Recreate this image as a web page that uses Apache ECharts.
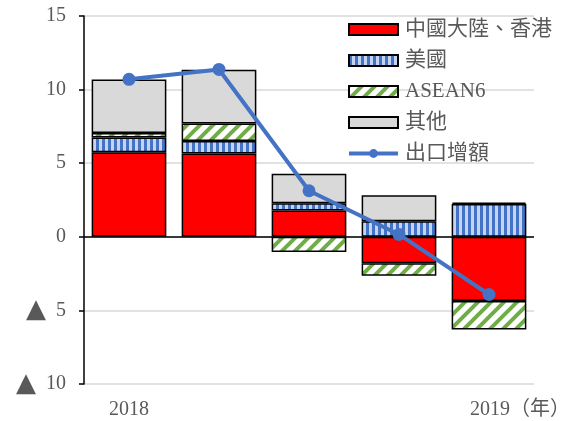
<!DOCTYPE html>
<html>
<head>
<meta charset="utf-8">
<script src="https://cdn.jsdelivr.net/npm/echarts@6/dist/echarts.min.js"></script>
<style>
  html, body { margin: 0; padding: 0; background: #fff; }
  #chart { width: 575px; height: 421px; }
</style>
</head>
<body>
<div id="chart"></div>
<script>
var categories = ['2018', ' ', '  ', '   ', '2019']
var yearUnit = '（年）'
var seriesNames = ['中國大陸、香港', '美國', 'ASEAN6', '其他', '出口增額']
var chinaHK = [5.75, 5.66, 1.78, -1.8, -4.36]
var usa = [1.0, 0.84, 0.5, 1.05, 2.23]
var asean6 = [0.3, 1.2, -1.03, -0.85, -1.94]
var others = [3.63, 3.65, 2.0, 1.78, 0.1]
var exportGrowth = [10.7, 11.37, 3.13, 0.16, -3.92]

var FONT = "'Liberation Serif', 'Noto Sans CJK TC', serif"
var TEXT = '#595959'

// vertical blue stripes
function stripes() {
  var c = document.createElement('canvas')
  c.width = 6; c.height = 6
  var ctx = c.getContext('2d')
  ctx.fillStyle = '#C5D4EE'
  ctx.fillRect(0, 0, 6, 6)
  ctx.fillStyle = '#4472C4'
  ctx.fillRect(0, 0, 3, 6)
  return c
}

// green diagonal hatch
function hatch() {
  var c = document.createElement('canvas')
  var s = 13
  c.width = s; c.height = s
  var ctx = c.getContext('2d')
  ctx.fillStyle = '#fff'
  ctx.fillRect(0, 0, s, s)
  ctx.strokeStyle = '#70AD47'
  ctx.lineWidth = 4
  ctx.beginPath()
  ctx.moveTo(-s, 2 * s); ctx.lineTo(2 * s, -s)
  ctx.moveTo(-s, s); ctx.lineTo(s, -s)
  ctx.moveTo(0, 2 * s); ctx.lineTo(2 * s, 0)
  ctx.stroke()
  return c
}

var barBorder = { borderColor: '#000', borderWidth: 1.5 }

function bar(name, data, color) {
  return {
    name: name, type: 'bar', stack: 'a', data: data,
    barCategoryGap: '17%',
    itemStyle: Object.assign({ color: color }, barBorder)
  }
}

var legendData = seriesNames.slice(0, 4).map(function (n) { return { name: n, icon: 'rect' } })
legendData.push({ name: seriesNames[4] })

var chart = echarts.init(document.getElementById('chart'))
chart.setOption({
  animation: false,
  textStyle: { fontFamily: FONT },
  grid: { left: 84, right: 41, top: 16, bottom: 37 },
  legend: {
    orient: 'vertical',
    left: 347, top: 19, padding: 0,
    itemWidth: 49, itemHeight: 11, itemGap: 10,
    lineStyle: { width: 4 },
    textStyle: { fontSize: 21, color: TEXT, fontFamily: FONT, padding: [0, 0, 0, 2] },
    data: legendData
  },
  xAxis: {
    type: 'category',
    data: categories,
    axisLine: { show: false, onZero: false },
    axisTick: { show: false },
    axisLabel: {
      interval: 0, fontSize: 20, color: TEXT, margin: 16, fontFamily: FONT,
      formatter: function (v, i) {
        return i === categories.length - 1 ? '{s|}' + v + '{u|' + yearUnit + '}' : v
      },
      rich: {
        s: { width: 62 },
        u: { fontSize: 20, color: TEXT, fontFamily: FONT }
      }
    }
  },
  yAxis: {
    type: 'value',
    min: -10, max: 15, interval: 5,
    axisLine: { show: true, lineStyle: { color: '#000', width: 1.5 } },
    axisTick: { show: true, length: 5, lineStyle: { color: '#000', width: 1.5 } },
    splitLine: { lineStyle: { color: '#D9D9D9', width: 1.5 } },
    axisLabel: {
      fontSize: 20, color: TEXT, margin: 18, fontFamily: FONT,
      formatter: function (v) { return v < 0 ? '{t|▲}  ' + (-v) : String(v) },
      rich: { t: { fontSize: 26, color: '#595959', fontFamily: 'DejaVu Sans' } }
    }
  },
  series: [
    bar(seriesNames[0], chinaHK, '#FF0000'),
    bar(seriesNames[1], usa, { image: stripes(), repeat: 'repeat' }),
    bar(seriesNames[2], asean6, { image: hatch(), repeat: 'repeat' }),
    bar(seriesNames[3], others, '#D9D9D9'),
    {
      name: seriesNames[4], type: 'line', data: exportGrowth, z: 5,
      symbol: 'circle', symbolSize: 13,
      lineStyle: { color: '#4472C4', width: 4 },
      itemStyle: { color: '#4472C4' },
      markLine: {
        silent: true, symbol: 'none', label: { show: false },
        lineStyle: { color: '#000', width: 1.5, type: 'solid' },
        data: [{ yAxis: 0 }]
      }
    }
  ]
})
</script>
</body>
</html>
